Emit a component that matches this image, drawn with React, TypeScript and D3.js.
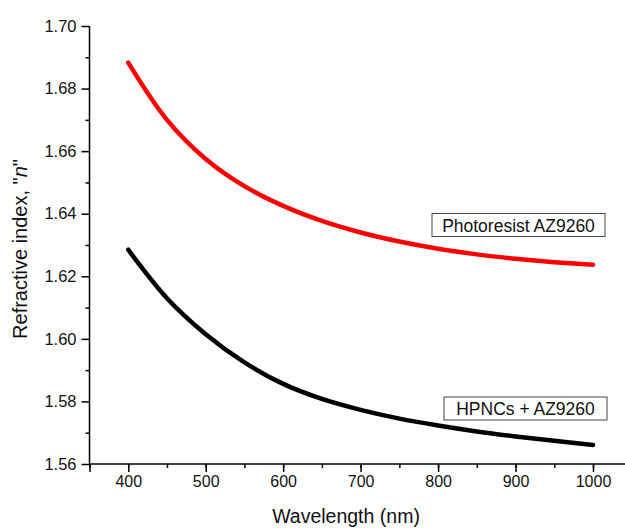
import React, { useEffect, useRef } from "react";
import { select, scaleLinear, line, axisBottom, axisLeft, range, curveCatmullRom } from "d3";

const wavelengths = [400, 450, 500, 550, 600, 650, 700, 750, 800, 850, 900, 950, 1000];
const photoresist = [1.6883, 1.67, 1.6575, 1.6488, 1.6425, 1.6377, 1.634, 1.6311, 1.6288, 1.627, 1.6256, 1.6245, 1.6237];
const hpncs = [1.6285, 1.613, 1.6015, 1.5925, 1.5856, 1.5808, 1.5773, 1.5745, 1.5723, 1.5704, 1.5688, 1.5674, 1.5661];
const xTicks = [400, 500, 600, 700, 800, 900, 1000];
const yTicks = [1.56, 1.58, 1.6, 1.62, 1.64, 1.66, 1.68, 1.7];

const WIDTH = 625;
const HEIGHT = 529;

export default function App() {
  const svgRef = useRef<SVGSVGElement>(null);

  useEffect(() => {
    const svg = select(svgRef.current);
    svg.selectAll("*").remove();

    const xScale = scaleLinear().domain([350, 1000]).range([89.5, 593]);
    const yScale = scaleLinear().domain([1.56, 1.7]).range([464, 26]);
    const font = "Liberation Sans, Arial, sans-serif";

    // minor ticks
    svg.append("g")
      .attr("transform", "translate(0,464)")
      .call(axisBottom(xScale).tickValues(range(350, 1001, 50)).tickSize(4).tickFormat(() => ""))
      .call((g) => g.select(".domain").remove());
    svg.append("g")
      .attr("transform", "translate(89.5,0)")
      .call(axisLeft(yScale).tickValues(range(1.57, 1.7, 0.02)).tickSize(4).tickFormat(() => ""))
      .call((g) => g.select(".domain").remove());

    const xAxis = svg.append("g")
      .attr("transform", "translate(0,464)")
      .call(axisBottom(xScale).tickValues([350, ...xTicks]).tickSize(8).tickPadding(4)
        .tickFormat((d) => (d === 350 ? "" : String(d))));
    xAxis.select(".domain").attr("d", "M89.5,0H625");
    xAxis.selectAll("text").attr("font-size", 16).attr("font-family", font).attr("fill", "#111");

    const yAxis = svg.append("g")
      .attr("transform", "translate(89.5,0)")
      .call(axisLeft(yScale).tickValues(yTicks).tickSize(8).tickPadding(5).tickFormat((d) => Number(d).toFixed(2)));
    yAxis.select(".domain").attr("d", "M0,464V26");
    yAxis.selectAll("text").attr("font-size", 16.5).attr("font-family", font).attr("fill", "#111");
    svg.selectAll(".domain, .tick line").attr("stroke", "#000").attr("stroke-width", 1.5);

    const path = line<number>()
      .x((_, i) => xScale(wavelengths[i]))
      .y((d) => yScale(d))
      .curve(curveCatmullRom.alpha(0.5));

    svg.append("path").datum(photoresist).attr("d", path).attr("fill", "none")
      .attr("stroke", "#ff0000").attr("stroke-width", 4.5).attr("stroke-linecap", "round");
    svg.append("path").datum(hpncs).attr("d", path).attr("fill", "none")
      .attr("stroke", "#000").attr("stroke-width", 4.5).attr("stroke-linecap", "round");

    const labels = [
      { text: "Photoresist AZ9260", x: 432, y: 213.5, w: 173 },
      { text: "HPNCs + AZ9260", x: 444, y: 397, w: 163 },
    ];
    labels.forEach((l) => {
      svg.append("rect").attr("x", l.x).attr("y", l.y).attr("width", l.w).attr("height", 23)
        .attr("fill", "#fff").attr("stroke", "#444").attr("stroke-width", 1);
      svg.append("text").attr("x", l.x + l.w / 2).attr("y", l.y + 18).attr("text-anchor", "middle")
        .attr("font-size", 17.5).attr("font-family", font).attr("fill", "#111").text(l.text);
    });

    svg.append("text").attr("x", 346).attr("y", 523).attr("text-anchor", "middle")
      .attr("font-size", 19.5).attr("font-family", font).attr("fill", "#111").text("Wavelength (nm)");

    const yTitle = svg.append("text")
      .attr("transform", "translate(27,249) rotate(-90)")
      .attr("text-anchor", "middle")
      .attr("font-size", 20).attr("font-family", font).attr("fill", "#111");
    yTitle.append("tspan").text("Refractive index, \"");
    yTitle.append("tspan").attr("font-style", "italic").text("n");
    yTitle.append("tspan").text("\"");
  }, []);

  return (
    <svg ref={svgRef} width={WIDTH} height={HEIGHT}
      style={{ position: "absolute", left: 0, top: 0, background: "#fff" }}></svg>
  );
}
